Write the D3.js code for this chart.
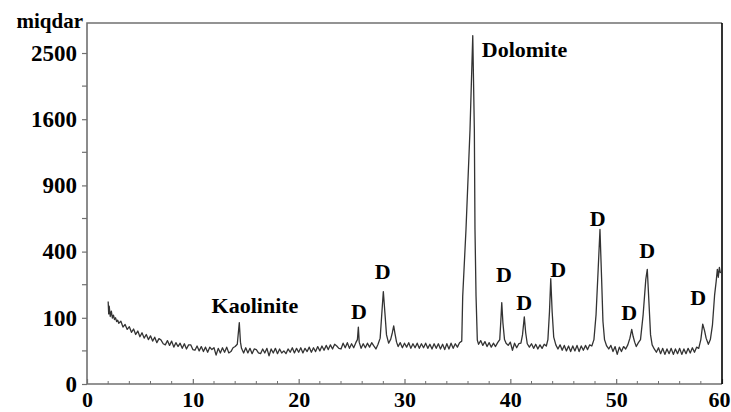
<!DOCTYPE html>
<html>
<head>
<meta charset="utf-8">
<script src="https://cdn.jsdelivr.net/npm/d3@7"></script>
<style>
  body { margin: 0; background: #fff; }
  text { font-family: "Liberation Serif", "Times New Roman", serif; font-weight: bold; fill: #000; }
</style>
</head>
<body>
<script>
// XRD scan: 2-theta (deg) and counts
const twoTheta = [
  2.00, 2.05, 2.10, 2.20, 2.30, 2.40, 2.50, 2.60, 2.70, 2.80, 2.90, 3.00,
  3.20, 3.40, 3.60, 3.80, 4.00, 4.20, 4.40, 4.60, 4.80, 5.00, 5.20, 5.40,
  5.60, 5.80, 6.00, 6.20, 6.40, 6.60, 6.80, 7.00, 7.20, 7.40, 7.60, 7.80,
  8.00, 8.20, 8.40, 8.60, 8.80, 9.00, 9.20, 9.40, 9.60, 9.80, 10.00, 10.20,
  10.40, 10.60, 10.80, 11.00, 11.20, 11.40, 11.60, 11.80, 12.00, 12.20, 12.40, 12.60,
  12.80, 13.00, 13.20, 13.40, 13.60, 13.80, 14.00, 14.20, 14.39, 14.50, 14.60, 14.80,
  15.00, 15.20, 15.40, 15.60, 15.80, 16.00, 16.20, 16.40, 16.60, 16.80, 17.00, 17.20,
  17.40, 17.60, 17.80, 18.00, 18.20, 18.40, 18.60, 18.80, 19.00, 19.20, 19.40, 19.60,
  19.80, 20.00, 20.20, 20.40, 20.60, 20.80, 21.00, 21.20, 21.40, 21.60, 21.80, 22.00,
  22.20, 22.40, 22.60, 22.80, 23.00, 23.20, 23.40, 23.60, 23.80, 24.00, 24.20, 24.40,
  24.60, 24.80, 25.00, 25.20, 25.40, 25.55, 25.64, 25.72, 25.90, 26.10, 26.30, 26.50,
  26.70, 26.90, 27.10, 27.30, 27.50, 27.70, 27.85, 28.00, 28.15, 28.30, 28.50, 28.70,
  28.85, 28.98, 29.10, 29.25, 29.40, 29.60, 29.80, 30.00, 30.20, 30.40, 30.60, 30.80,
  31.00, 31.20, 31.40, 31.60, 31.80, 32.00, 32.20, 32.40, 32.60, 32.80, 33.00, 33.20,
  33.40, 33.60, 33.80, 34.00, 34.20, 34.40, 34.60, 34.80, 35.00, 35.20, 35.41, 35.50,
  35.81, 36.19, 36.45, 36.60, 36.66, 36.76, 36.88, 37.00, 37.20, 37.40, 37.60, 37.80,
  38.00, 38.20, 38.40, 38.60, 38.80, 39.00, 39.10, 39.19, 39.30, 39.45, 39.60, 39.80,
  40.00, 40.20, 40.40, 40.60, 40.80, 41.00, 41.15, 41.32, 41.45, 41.60, 41.80, 42.00,
  42.20, 42.40, 42.60, 42.80, 43.00, 43.20, 43.40, 43.55, 43.70, 43.82, 43.95, 44.10,
  44.30, 44.50, 44.70, 44.90, 45.10, 45.30, 45.50, 45.70, 45.90, 46.10, 46.30, 46.50,
  46.70, 46.90, 47.10, 47.30, 47.50, 47.70, 47.90, 48.10, 48.30, 48.47, 48.62, 48.75,
  48.90, 49.10, 49.30, 49.50, 49.70, 49.90, 50.10, 50.30, 50.50, 50.70, 50.90, 51.10,
  51.30, 51.47, 51.60, 51.75, 51.90, 52.10, 52.30, 52.55, 52.80, 52.94, 53.10, 53.25,
  53.40, 53.60, 53.80, 54.00, 54.20, 54.40, 54.60, 54.80, 55.00, 55.20, 55.40, 55.60,
  55.80, 56.00, 56.20, 56.40, 56.60, 56.80, 57.00, 57.20, 57.40, 57.60, 57.80, 58.00,
  58.18, 58.35, 58.50, 58.71, 58.90, 59.10, 59.30, 59.45, 59.56, 59.65, 59.75, 59.85
]
const counts = [
  155, 112, 138, 104, 121, 99, 108, 95, 100, 89, 93, 84,
  90, 74, 81, 68, 75, 61, 69, 56, 64, 51, 60, 48,
  56, 45, 53, 42, 50, 39, 47, 44, 37, 35, 43, 34,
  42, 31, 39, 32, 38, 29, 37, 28, 35, 35, 27, 26,
  33, 25, 32, 24, 31, 23, 31, 27, 30, 19, 29, 22,
  30, 23, 31, 22, 24, 30, 32, 36, 86, 40, 29, 22,
  30, 22, 29, 21, 28, 27, 22, 21, 28, 22, 29, 18,
  28, 22, 29, 21, 28, 22, 25, 21, 28, 23, 30, 22,
  29, 23, 30, 22, 29, 24, 31, 23, 30, 24, 32, 25,
  33, 26, 34, 27, 35, 28, 36, 33, 29, 28, 38, 30,
  39, 29, 37, 30, 39, 45, 74, 40, 29, 37, 30, 38,
  31, 39, 33, 28, 36, 48, 110, 195, 115, 55, 38, 46,
  60, 77, 58, 40, 32, 39, 30, 38, 31, 39, 29, 37,
  30, 38, 29, 37, 30, 38, 29, 36, 28, 37, 29, 37,
  28, 36, 27, 37, 28, 38, 29, 37, 31, 39, 42, 176,
  545, 1475, 2770, 1475, 545, 176, 44, 36, 43, 34, 41, 32,
  39, 31, 38, 32, 39, 45, 90, 151, 85, 45, 38, 34,
  40, 26, 38, 30, 37, 38, 55, 103, 60, 37, 31, 37,
  29, 36, 28, 35, 29, 36, 33, 45, 120, 253, 120, 50,
  35, 28, 35, 26, 34, 25, 33, 24, 33, 25, 34, 24,
  33, 26, 34, 27, 35, 33, 45, 110, 300, 545, 260, 90,
  45, 33, 28, 34, 24, 32, 20, 31, 24, 32, 28, 35,
  48, 68, 52, 40, 32, 39, 45, 110, 250, 300, 150, 55,
  35, 28, 23, 30, 21, 29, 20, 28, 21, 29, 20, 28,
  21, 29, 20, 28, 21, 29, 22, 30, 23, 31, 29, 45,
  82, 65, 48, 36, 45, 80, 180, 240, 300, 260, 310, 280
]

const yTicks = [0, 100, 400, 900, 1600, 2500]
const yMinorTicks = [25, 225, 625, 1225, 2025]
const xTicks = [0, 10, 20, 30, 40, 50, 60]
const xMinorTicks = [2, 4, 6, 8, 12, 14, 16, 18, 22, 24, 26, 28, 32, 34, 36, 38, 42, 44, 46, 48, 52, 54, 56, 58]

// peak labels, anchored at (2-theta, counts) of the text baseline
const labelText  = ['Kaolinite', 'D', 'D', 'Dolomite', 'D', 'D', 'D', 'D', 'D', 'D', 'D']
const labelAngle = [15.87, 25.70, 27.94, 37.30, 39.40, 41.32, 44.53, 48.26, 51.24, 52.94, 57.76]
const labelCount = [116, 96, 252, 2435, 237, 125, 261, 572, 94, 360, 142]

const margin = {top: 23, bottom: 28, left: 87, right: 9}
const width = 731 - margin.left - margin.right
const height = 412 - margin.top - margin.bottom

const svg = d3.select('body').append('svg')
  .attr('width', 731)
  .attr('height', 412)

const g = svg.append('g')
  .attr('transform', `translate(${margin.left},${margin.top})`)

const xScale = d3.scaleLinear()
  .domain([0, 60])
  .range([0, width])

// square-root intensity axis
const yScale = d3.scaleSqrt()
  .domain([0, 2974])
  .range([height, 0])

const axisGrey = '#707070'

// y axis ticks (outside)
const yaxis = d3.axisLeft(yScale).tickValues(yTicks).tickSize(5).tickPadding(5).tickFormat(d3.format('d'))
const drawYaxis = g.append('g').attr('class', 'y-as').call(yaxis)
drawYaxis.select('.domain').remove()
drawYaxis.selectAll('line').attr('stroke', axisGrey).attr('stroke-width', 1.2)
drawYaxis.selectAll('text')
  .attr('font-size', 23)
  .attr('dy', '0.32em')
  .attr('fill', '#000')

g.append('g').selectAll('line')
  .data(yMinorTicks)
  .join('line')
  .attr('x1', -5).attr('x2', 0)
  .attr('y1', d => yScale(d)).attr('y2', d => yScale(d))
  .attr('stroke', axisGrey).attr('stroke-width', 1.2)

// x axis ticks (pointing up into the plot)
const xaxis = d3.axisBottom(xScale).tickValues(xTicks).tickSize(-5).tickPadding(7)
const drawXaxis = g.append('g').attr('class', 'x-as')
  .attr('transform', `translate(0,${height})`)
  .call(xaxis)
drawXaxis.select('.domain').remove()
drawXaxis.selectAll('line').attr('stroke', axisGrey).attr('stroke-width', 1.2)
drawXaxis.selectAll('text')
  .attr('font-size', 22)
  .attr('dy', '0.71em')
  .attr('dx', d => d === 60 ? -3 : 0)
  .attr('fill', '#000')

g.append('g').selectAll('line')
  .data(xMinorTicks)
  .join('line')
  .attr('x1', d => xScale(d)).attr('x2', d => xScale(d))
  .attr('y1', height).attr('y2', height - 3)
  .attr('stroke', axisGrey).attr('stroke-width', 1)

// frame: grey left / top / bottom, black right
g.append('path')
  .attr('d', `M${width},0H0V${height}H${width}`)
  .attr('fill', 'none')
  .attr('stroke', axisGrey)
  .attr('stroke-width', 1.6)
g.append('line')
  .attr('x1', width).attr('x2', width)
  .attr('y1', 0).attr('y2', height)
  .attr('stroke', '#000')
  .attr('stroke-width', 1.6)

// the scan
const scan = d3.zip(twoTheta, counts)
const line = d3.line()
  .x(d => xScale(d[0]))
  .y(d => yScale(d[1]))

g.append('path')
  .datum(scan)
  .attr('fill', 'none')
  .attr('stroke', '#333')
  .attr('stroke-width', 1.3)
  .attr('stroke-linejoin', 'round')
  .attr('d', line)

// peak labels
g.append('g').selectAll('text')
  .data(labelText)
  .join('text')
  .attr('x', (d, i) => xScale(labelAngle[i]))
  .attr('y', (d, i) => yScale(labelCount[i]))
  .attr('text-anchor', d => d === 'Dolomite' ? 'start' : 'middle')
  .attr('font-size', 22)
  .text(d => d)

// axis title
g.append('text')
  .attr('x', -4)
  .attr('y', 5)
  .attr('text-anchor', 'end')
  .attr('font-size', 21)
  .text('miqdar')
</script>
</body>
</html>
